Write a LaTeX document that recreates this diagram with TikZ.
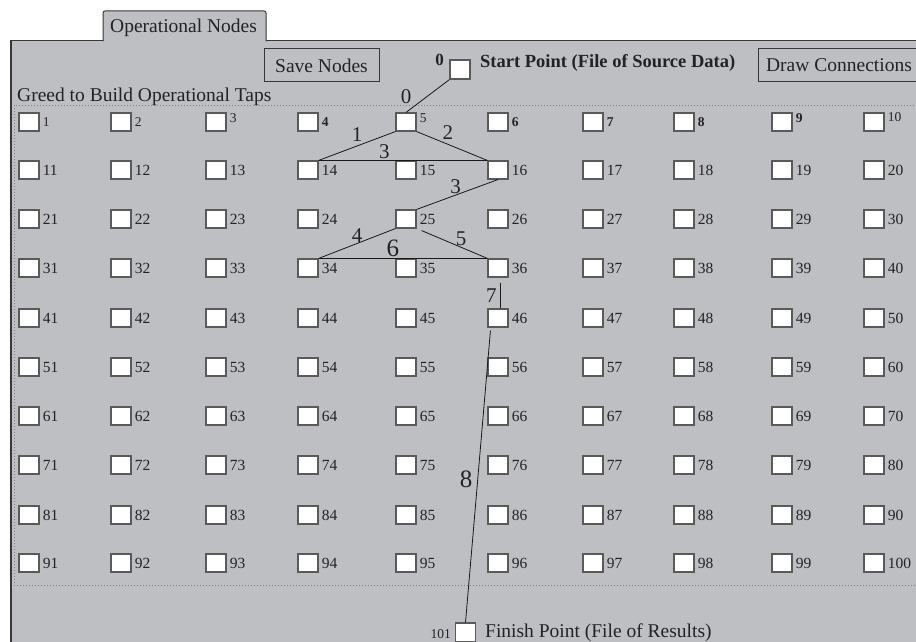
\documentclass[tikz,border=0pt]{standalone}
\usepackage{fontspec}
\setmainfont{Liberation Serif}
\usetikzlibrary{positioning}
\definecolor{panelgray}{RGB}{190,191,195}
\definecolor{framegray}{RGB}{55,55,58}
\definecolor{boxgray}{RGB}{90,90,92}
\definecolor{dotgray}{RGB}{125,125,130}
\definecolor{inkgray}{RGB}{35,35,38}
\tikzset{
    maintext/.style={font=\fontsize{19.5}{22}\selectfont, text=inkgray, inner sep=0pt},
    tapbox/.style={draw=boxgray, fill=white, line width=1.1pt,
        minimum width=20pt, minimum height=18pt, inner sep=0pt},
    tapnum/.style={font=\fontsize{15.5}{17}\selectfont, text=inkgray,
        inner sep=0pt, anchor=west},
    toprownum/.style={tapnum, font=\fontsize{13.5}{15}\selectfont},
    panelbutton/.style={draw=framegray, line width=1pt, inner sep=0pt,
        font=\fontsize{19.5}{22}\selectfont, text=inkgray},
    connector/.style={draw=black!90, line width=0.8pt},
    weight/.style={font=\fontsize{21}{23}\selectfont, text=inkgray, inner sep=1pt},
}

\begin{document}
\begin{tikzpicture}[x=1pt, y=-1pt]
    \useasboundingbox (0,0) rectangle (916,642);
    % panel with its tab
    \fill[panelgray] (10,41) rectangle (920,650);
    \filldraw[fill=panelgray, draw=framegray, line width=1pt, rounded corners=2pt]
        (103,41.5) -- (103,11) -- (266,11) -- (266,41.5);
    \draw[framegray, line width=1pt] (10,41) -- (103,41) (266,41) -- (920,41);
    \draw[framegray, line width=2pt] (11,41) -- (11,650);
    \node[maintext, anchor=base west] (tabname) at (110,33) {Operational Nodes};

    % buttons and end points
    \node[panelbutton, minimum width=115pt, minimum height=33pt] (savebtn) at (321.5,65.5) {Save Nodes};
    \node[panelbutton, minimum width=162pt, minimum height=33pt] (drawbtn) at (839,65.5) {Draw Connections};
    \node[tapbox, minimum height=19pt] (n0) at (460,69.5) {};
    \node[font=\fontsize{17}{19}\selectfont\bfseries, text=inkgray, inner sep=0pt, anchor=base east] (l0) at (444,66) {0};
    \node[font=\fontsize{18.5}{21}\selectfont\bfseries, text=inkgray, inner sep=0pt, anchor=base west] (startname) at (480,67) {Start Point (File of Source Data)};

    % grid of taps
    \node[maintext, anchor=base west] (gridname) at (17,102) {Greed to Build Operational Taps};
    \draw[dotgray, line width=0.7pt, dash pattern=on 0.8pt off 2.2pt] (14,105) rectangle (920,585);
    \foreach \cx [count=\c] in {29,121,216,308,406,498,593,684,782,874}
        \foreach \ry [count=\r] in {122,170,219,268,318,367,416,465,515,563}
        {
            \pgfmathtruncatemacro{\k}{(\r-1)*10+\c}
            \node[tapbox] (n\k) at (\cx,\ry) {};
        }
    \foreach \k in {11,...,100}
        \node[tapnum] (l\k) at ([xshift=3pt]n\k.east) {\k};
    \foreach \k/\dy in {1/0,2/0,3/4,5/4,10/5}
        \node[toprownum] (l\k) at ([xshift=3pt,yshift=\dy pt]n\k.east) {\k};
    \foreach \k/\dy in {4/0,6/0,7/0,8/0,9/4}
        \node[toprownum, font=\fontsize{13.5}{15}\selectfont\bfseries] (l\k) at ([xshift=3pt,yshift=\dy pt]n\k.east) {\k};

    \node[tapbox, minimum height=19pt] (n101) at (465.5,632.5) {};
    \node[font=\fontsize{13.5}{15}\selectfont, text=inkgray, inner sep=0pt, anchor=base east] (l101) at ([xshift=-4pt]n101.west |- 0,638) {101};
    \node[maintext, anchor=base west] (finishname) at (485,637.5) {Finish Point (File of Results)};

    % connections
    \draw[connector] (n0.south west) -- node[weight, pos=0.8, above left=1pt and 2pt] {0} (n5.north);
    \draw[connector] (n5.south west) -- node[weight, pos=0.5, above=3pt] {1} (n14.north east);
    \draw[connector] (n5.south east) -- node[weight, pos=0.44, above=3pt] {2} (n16.north west);
    \draw[connector] (n14.north east) -- node[weight, pos=0.39, above] {3} (n16.north west);
    \draw[connector] (n16.south) -- node[weight, pos=0.52, above] {3} (n25.north east);
    \draw[connector] (n25.south west) -- node[weight, pos=0.5, above] {4} (n34.north east);
    \draw[connector] ([xshift=5pt,yshift=-2pt]n25.south east) -- node[weight, pos=0.6, above] {5} (n36.north west);
    \draw[connector] (n34.north east) -- node[weight, pos=0.44, above, font=\fontsize{25}{27}\selectfont] {6} (n36.north west);
    \draw[connector] ([xshift=2pt,yshift=-5pt]n36.south) -- node[weight, left=2pt] {7} ([xshift=2pt]n46.north);
    \draw[connector] ([xshift=3pt,yshift=-3pt]n46.south west) -- node[weight, pos=0.51, left=4pt, font=\fontsize{25}{27}\selectfont] {8} (n101.north);
\end{tikzpicture}
\end{document}
